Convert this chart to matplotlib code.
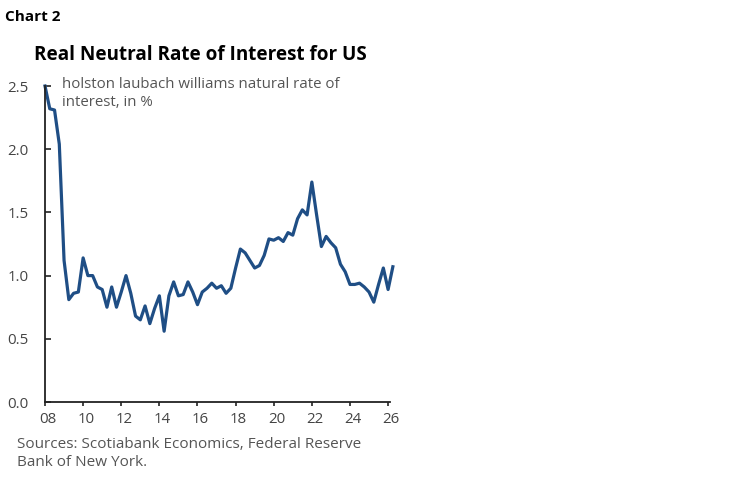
import numpy as np
import matplotlib
matplotlib.use('Agg')
import matplotlib.pyplot as plt
import matplotlib.transforms as mtransforms

# quarterly estimate of the HLW natural rate, starting at 2008.0
start_year = 2008
hlw_rate = [
    2.50, 2.32, 2.31, 2.04, 1.12, 0.81, 0.86, 0.87,
    1.14, 1.00, 1.00, 0.91, 0.89, 0.75, 0.91, 0.75,
    0.87, 1.00, 0.86, 0.68, 0.65, 0.76, 0.62, 0.74,
    0.84, 0.56, 0.84, 0.95, 0.84, 0.85, 0.95, 0.87,
    0.77, 0.87, 0.90, 0.94, 0.90, 0.92, 0.86, 0.90,
    1.06, 1.21, 1.18, 1.12, 1.06, 1.08, 1.16, 1.29,
    1.28, 1.30, 1.27, 1.34, 1.32, 1.45, 1.52, 1.48,
    1.74, 1.48, 1.23, 1.31, 1.26, 1.22, 1.09, 1.03,
    0.93, 0.93, 0.94, 0.91, 0.87, 0.79, 0.93, 1.06,
    0.89, 1.07,
]
years = start_year + np.arange(len(hlw_rate)) / 4

xticks = list(range(2008, 2027, 2))
xtick_labels = ['08', '10', '12', '14', '16', '18', '20', '22', '24', '26']
yticks = [0.0, 0.5, 1.0, 1.5, 2.0, 2.5]

plt.rcParams['font.family'] = ['Open Sans', 'DejaVu Sans']

W, H = 749, 482
fig = plt.figure(figsize=(W / 100, H / 100), dpi=100)
ax = fig.add_axes([45 / W, 1 - 402 / H, (390 - 45) / W, (402 - 86) / H])

ax.plot(years, hlw_rate, color='#1f4e85', lw=2.3, clip_on=False, solid_joinstyle='round')

ax.set_xlim(2008, 2026.1)
ax.set_ylim(0, 2.5)
ax.set_xticks(xticks)
ax.set_xticklabels(xtick_labels)
ax.set_yticks(yticks)
ax.set_yticklabels([f'{v:.1f}' for v in yticks])

for s in ['top', 'right']:
    ax.spines[s].set_visible(False)
for s in ['left', 'bottom']:
    ax.spines[s].set_color('#222222')
    ax.spines[s].set_linewidth(1.3)

ax.tick_params(axis='y', direction='in', length=4, width=1.2, pad=12,
               colors='#222222', labelcolor='#444444', labelsize=10.8)
ax.tick_params(axis='x', direction='out', length=3, width=1.2, pad=4,
               colors='#222222', labelcolor='#444444', labelsize=10.8)
offset = mtransforms.ScaledTranslation(3 / 100, 0, fig.dpi_scale_trans)
for lab in ax.get_xticklabels():
    lab.set_transform(lab.get_transform() + offset)

fig.text(5 / W, 1 - 17 / H, 'Chart 2', fontsize=11, fontweight='bold',
         va='center', ha='left', color='black')
fig.text(200 / W, 1 - 55 / H, 'Real Neutral Rate of Interest for US', fontsize=13.6,
         fontweight='bold', va='center', ha='center', color='black')
fig.text(62 / W, 1 - 77 / H, 'holston laubach williams natural rate of\ninterest, in %',
         fontsize=10.8, va='top', ha='left', color='#555555', linespacing=1.3)
fig.text(17 / W, 1 - 437 / H, 'Sources: Scotiabank Economics, Federal Reserve\nBank of New York.',
         fontsize=11, va='top', ha='left', color='#555555', linespacing=1.3)

fig.savefig('out.png', dpi=100)
